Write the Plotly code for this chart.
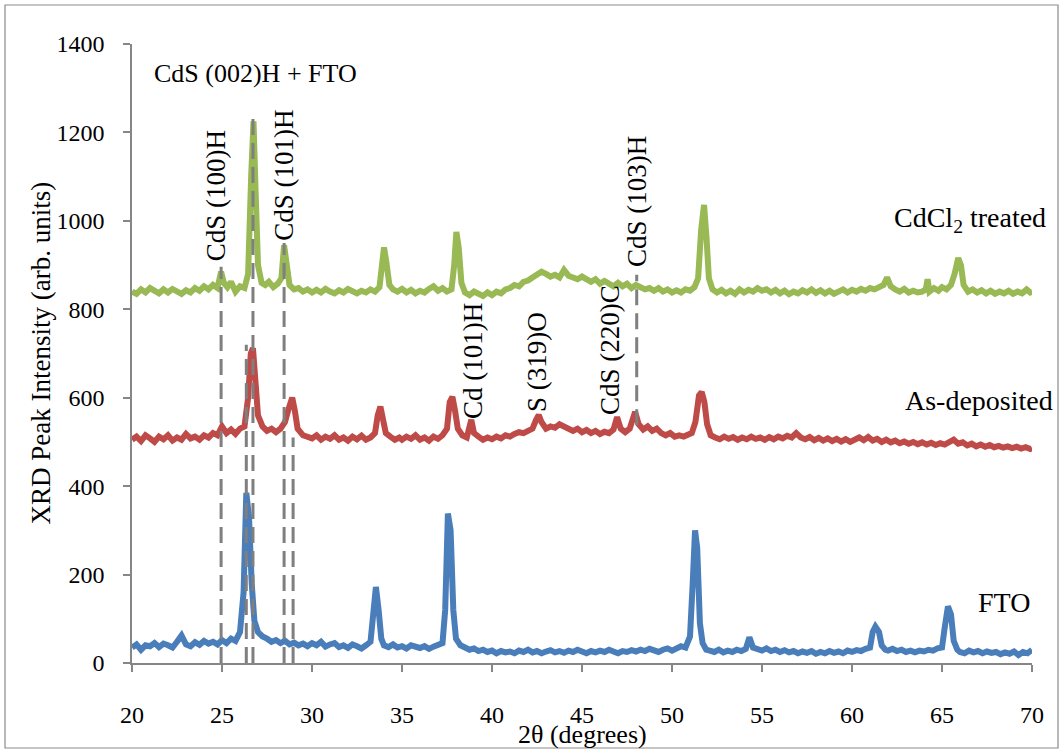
import plotly.graph_objects as go

# ---------------- data ----------------
fto_x = [20.0, 20.25, 20.5, 20.75, 21.0, 21.25, 21.5, 21.75, 22.0, 22.25, 22.5, 22.75, 23.0, 23.25, 23.5, 23.75,
         24.0, 24.25, 24.5, 24.75, 25.0, 25.25, 25.5, 25.75, 26.0, 26.2, 26.35, 26.5, 26.65, 26.8, 27.0, 27.25,
         27.5, 27.75, 28.0, 28.25, 28.5, 28.75, 29.0, 29.25, 29.5, 29.75, 30.0, 30.25, 30.5, 30.75, 31.0, 31.25,
         31.5, 31.75, 32.0, 32.25, 32.5, 32.75, 33.0, 33.25, 33.4, 33.55, 33.7, 33.85, 34.0, 34.25, 34.5, 34.75,
         35.0, 35.25, 35.5, 35.75, 36.0, 36.25, 36.5, 36.75, 37.0, 37.25, 37.4, 37.55, 37.7, 37.85, 38.0, 38.25,
         38.5, 38.75, 39.0, 39.25, 39.5, 39.75, 40.0, 40.25, 40.5, 40.75, 41.0, 41.25, 41.5, 41.75, 42.0, 42.25,
         42.5, 42.75, 43.0, 43.25, 43.5, 43.75, 44.0, 44.25, 44.5, 44.75, 45.0, 45.25, 45.5, 45.75, 46.0, 46.25,
         46.5, 46.75, 47.0, 47.25, 47.5, 47.75, 48.0, 48.25, 48.5, 48.75, 49.0, 49.25, 49.5, 49.75, 50.0, 50.25,
         50.5, 50.75, 51.0, 51.15, 51.28, 51.4, 51.55, 51.7, 51.9, 52.1, 52.35, 52.6, 52.85, 53.1, 53.35, 53.6,
         53.85, 54.1, 54.3, 54.5, 54.75, 55.0, 55.25, 55.5, 55.75, 56.0, 56.25, 56.5, 56.75, 57.0, 57.25, 57.5,
         57.75, 58.0, 58.25, 58.5, 58.75, 59.0, 59.25, 59.5, 59.75, 60.0, 60.25, 60.5, 60.75, 61.0, 61.15, 61.3,
         61.5, 61.65, 61.85, 62.0, 62.25, 62.5, 62.75, 63.0, 63.25, 63.5, 63.75, 64.0, 64.25, 64.5, 64.75, 65.0,
         65.15, 65.33, 65.5, 65.65, 65.85, 66.0, 66.25, 66.5, 66.75, 67.0, 67.25, 67.5, 67.75, 68.0, 68.25, 68.5,
         68.75, 69.0, 69.25, 69.5, 69.75, 70.0]
fto_y = [35, 42, 30, 40, 38, 45, 36, 44, 40, 35, 48, 62, 42, 38, 47, 41,
         50, 44, 48, 42, 52, 45, 55, 50, 70, 160, 385, 330, 180, 95, 70, 60,
         55, 48, 52, 45, 50, 42, 46, 40, 44, 38, 45, 40, 48, 37, 42, 45,
         36, 40, 34, 42, 38, 33, 40, 48, 110, 172, 120, 55, 40, 36, 42, 35,
         38, 33, 40, 36, 34, 38, 32, 37, 40, 45, 120, 338, 300, 120, 55, 40,
         35, 30, 33, 27, 30, 25, 28, 22, 27, 24, 26, 22, 28, 25, 30, 24,
         27, 22, 26, 29, 24, 27, 23, 28, 25, 30, 26, 22, 27, 24, 28, 25,
         30, 26, 22, 27, 25, 29, 26, 30, 27, 32, 28, 25, 30, 33, 28, 32,
         38, 35, 60, 180, 300, 260, 90, 45, 30, 28, 25, 30, 24, 28, 25, 30,
         27, 32, 58, 35, 30, 28, 33, 27, 30, 25, 29, 24, 27, 22, 26, 23,
         27, 21, 25, 22, 27, 23, 26, 22, 28, 25, 29, 27, 32, 35, 70, 82,
         70, 40, 30, 28, 32, 27, 30, 25, 28, 24, 28, 26, 30, 28, 33, 35,
         80, 128, 110, 50, 30, 25, 22, 28, 24, 27, 22, 26, 23, 25, 20, 24,
         21, 26, 18, 25, 22, 30]

asdep_x = [20.0, 20.25, 20.5, 20.75, 21.0, 21.25, 21.5, 21.75, 22.0, 22.25, 22.5, 22.75, 23.0, 23.25, 23.5, 23.75,
           24.0, 24.25, 24.5, 24.75, 25.0, 25.25, 25.5, 25.75, 26.0, 26.25, 26.45, 26.6, 26.72, 26.85, 27.0, 27.25,
           27.5, 27.75, 28.0, 28.25, 28.5, 28.7, 28.9, 29.05, 29.2, 29.5, 29.75, 30.0, 30.25, 30.5, 30.75, 31.0,
           31.25, 31.5, 31.75, 32.0, 32.25, 32.5, 32.75, 33.0, 33.25, 33.5, 33.65, 33.8, 33.95, 34.1, 34.35, 34.6,
           34.85, 35.0, 35.25, 35.5, 35.75, 36.0, 36.25, 36.5, 36.75, 37.0, 37.25, 37.5, 37.65, 37.8, 37.95, 38.1,
           38.35, 38.6, 38.85, 39.0, 39.25, 39.5, 39.75, 40.0, 40.25, 40.5, 40.75, 41.0, 41.25, 41.5, 41.75, 42.0,
           42.25, 42.45, 42.6, 42.75, 43.0, 43.25, 43.5, 43.75, 44.0, 44.25, 44.5, 44.75, 45.0, 45.25, 45.5, 45.75,
           46.0, 46.25, 46.5, 46.75, 46.95, 47.15, 47.4, 47.65, 47.95, 48.15, 48.4, 48.65, 48.9, 49.15, 49.4, 49.65,
           49.9, 50.15, 50.4, 50.65, 50.9, 51.1, 51.3, 51.5, 51.65, 51.8, 51.95, 52.15, 52.4, 52.65, 52.9, 53.15,
           53.4, 53.65, 53.9, 54.15, 54.4, 54.65, 54.9, 55.15, 55.4, 55.65, 55.9, 56.15, 56.4, 56.65, 56.9, 57.15,
           57.4, 57.65, 57.9, 58.15, 58.4, 58.65, 58.9, 59.15, 59.4, 59.65, 59.9, 60.15, 60.4, 60.65, 60.9, 61.15,
           61.4, 61.65, 61.9, 62.15, 62.4, 62.65, 62.9, 63.15, 63.4, 63.65, 63.9, 64.15, 64.4, 64.65, 64.9, 65.15,
           65.4, 65.65, 65.9, 66.15, 66.4, 66.65, 66.9, 67.15, 67.4, 67.65, 67.9, 68.15, 68.4, 68.65, 68.9, 69.15,
           69.4, 69.65, 69.9, 70.0]
asdep_y = [505, 512, 502, 515, 508, 500, 512, 506, 515, 503, 510, 505, 518, 508, 512, 505,
           515, 510, 520, 515, 535, 520, 528, 518, 530, 535, 600, 700, 712, 640, 560, 535,
           525, 530, 522, 530, 545, 575, 600, 570, 530, 515, 512, 508, 515, 505, 512, 507,
           515, 505, 510, 503, 512, 506, 514, 505, 510, 520, 560, 580, 550, 520, 512, 505,
           510, 505, 512, 507, 515, 505, 510, 503, 512, 507, 515, 530, 590, 602, 570, 530,
           515, 510, 550, 520, 512, 505, 510, 506, 512, 508, 515, 512, 518, 522, 520, 527,
           530, 550, 561, 545, 530, 535, 532, 540, 535, 530, 525, 530, 522, 527, 520, 525,
           518, 523, 520, 528, 556, 530, 522, 530, 568, 540, 528, 535, 525, 530, 520, 515,
           520, 512, 515, 512, 518, 520, 545, 605, 613, 590, 540, 515, 510, 506, 512, 507,
           511, 505, 510, 506, 512, 507, 510, 505, 511, 506, 512, 508, 514, 510, 520, 510,
           506, 511, 504, 509, 503, 508, 502, 507, 501, 506, 500, 505, 510, 504, 511, 503,
           507, 500, 505, 499, 503, 497, 501, 496, 500, 495, 499, 494, 498, 493, 497, 494,
           500, 505, 496, 499, 492, 496, 490, 494, 489, 493, 488, 491, 487, 490, 486, 489,
           485, 488, 484, 486]

cdcl_x = [20.0, 20.25, 20.5, 20.75, 21.0, 21.25, 21.5, 21.75, 22.0, 22.25, 22.5, 22.75, 23.0, 23.25, 23.5, 23.75,
          24.0, 24.25, 24.5, 24.75, 24.95, 25.1, 25.3, 25.5, 25.75, 26.0, 26.25, 26.45, 26.62, 26.75, 26.88, 27.0,
          27.2, 27.4, 27.6, 27.85, 28.1, 28.3, 28.45, 28.6, 28.75, 29.0, 29.25, 29.5, 29.75, 30.0, 30.25, 30.5,
          30.75, 31.0, 31.25, 31.5, 31.75, 32.0, 32.25, 32.5, 32.75, 33.0, 33.25, 33.5, 33.75, 33.88, 34.0, 34.12,
          34.3, 34.5, 34.75, 35.0, 35.25, 35.5, 35.75, 36.0, 36.25, 36.5, 36.75, 37.0, 37.25, 37.5, 37.75, 37.9,
          38.02, 38.15, 38.3, 38.5, 38.75, 39.0, 39.25, 39.5, 39.75, 40.0, 40.25, 40.5, 40.75, 41.0, 41.25, 41.5,
          41.75, 42.0, 42.25, 42.5, 42.75, 43.0, 43.25, 43.5, 43.75, 44.0, 44.25, 44.5, 44.75, 45.0, 45.25, 45.5,
          45.75, 46.0, 46.25, 46.5, 46.75, 47.0, 47.25, 47.5, 47.75, 48.0, 48.25, 48.5, 48.75, 49.0, 49.25, 49.5,
          49.75, 50.0, 50.25, 50.5, 50.75, 51.0, 51.25, 51.45, 51.62, 51.78, 51.92, 52.05, 52.25, 52.5, 52.75, 53.0,
          53.25, 53.5, 53.75, 54.0, 54.25, 54.5, 54.75, 55.0, 55.25, 55.5, 55.75, 56.0, 56.25, 56.5, 56.75, 57.0,
          57.25, 57.5, 57.75, 58.0, 58.25, 58.5, 58.75, 59.0, 59.25, 59.5, 59.75, 60.0, 60.25, 60.5, 60.75, 61.0,
          61.25, 61.5, 61.75, 61.95, 62.15, 62.4, 62.65, 62.9, 63.15, 63.4, 63.65, 63.9, 64.1, 64.2, 64.3, 64.55,
          64.8, 65.0, 65.25, 65.5, 65.7, 65.9, 66.05, 66.2, 66.45, 66.7, 66.95, 67.2, 67.45, 67.7, 67.95, 68.2,
          68.45, 68.7, 68.95, 69.2, 69.45, 69.7, 69.9, 70.0]
cdcl_y = [840, 835, 845, 838, 848, 840, 836, 845, 838, 846, 840, 835, 843, 838, 848, 842,
          852, 845, 855, 848, 885, 860, 850, 862, 840, 852, 848, 880, 1100, 1225, 1050, 900,
          860, 855, 862, 850, 858, 870, 945, 890, 855, 845, 848, 840, 845, 838, 844, 838,
          846, 840, 836, 843, 838, 846, 840, 836, 842, 838, 845, 840, 850, 905, 940, 910,
          855, 845, 840, 846, 838, 844, 836, 842, 838, 846, 852, 842, 848, 840, 845, 900,
          975, 940, 860, 838, 832, 840, 834, 830, 838, 832, 840, 836, 845, 848, 855, 852,
          862, 865, 872, 878, 885, 880, 874, 878, 872, 889, 876, 872, 868, 874, 866, 862,
          868, 858, 864, 858, 852, 860, 852, 858, 848, 855, 850, 845, 848, 842, 848, 840,
          845, 838, 843, 838, 845, 842, 850, 870, 980, 1036, 960, 870, 845, 838, 844, 836,
          842, 835, 845, 838, 844, 840, 848, 842, 845, 838, 844, 836, 842, 834, 840, 836,
          843, 838, 845, 837, 843, 836, 842, 835, 840, 845, 838, 844, 840, 846, 842, 848,
          845, 850, 855, 872, 852, 845, 840, 846, 838, 842, 838, 840, 845, 868, 840, 848,
          842, 850, 845, 855, 880, 916, 900, 855, 840, 845, 838, 843, 836, 842, 835, 840,
          836, 842, 835, 840, 836, 845, 838, 840]

series_names = ["FTO", "As-deposited", "CdCl2 treated"]
series_colors = ["#4A7EBB", "#BE4B48", "#98B954"]

x_ticks = [20, 25, 30, 35, 40, 45, 50, 55, 60, 65, 70]
y_ticks = [0, 200, 400, 600, 800, 1000, 1200, 1400]

# reference (dashed) lines: x position, bottom, top
ref_x = [24.95, 26.35, 26.72, 28.45, 28.95, 48.04]
ref_y0 = [0, 0, 0, 0, 0, 538]
ref_y1 = [896, 720, 1240, 950, 510, 878]

# rotated peak labels
peak_labels = ["CdS (100)H", "CdS (101)H", "Cd (101)H", "S (319)O", "CdS (220)C", "CdS (103)H"]
peak_label_x = [24.67, 28.44, 38.94, 42.5, 46.56, 48.06]
peak_label_y = [1056, 1104, 683, 681, 708, 1043]

FONT = "Liberation Serif"

fig = go.Figure()
for xs, ys, name, col in [(fto_x, fto_y, series_names[0], series_colors[0]),
                          (asdep_x, asdep_y, series_names[1], series_colors[1]),
                          (cdcl_x, cdcl_y, series_names[2], series_colors[2])]:
    fig.add_trace(go.Scatter(x=xs, y=ys, mode="lines", name=name,
                             line=dict(color=col, width=6),
                             showlegend=False, cliponaxis=False))

for xv, y0, y1 in zip(ref_x, ref_y0, ref_y1):
    fig.add_shape(type="line", xref="x", yref="y", x0=xv, x1=xv, y0=y0, y1=y1,
                  line=dict(color="#7F7F7F", width=3, dash="16px,8px"), layer="above")

ann = []
for t, xv, yv in zip(peak_labels, peak_label_x, peak_label_y):
    ann.append(dict(text=t, x=xv, y=yv, xref="x", yref="y", textangle=-90, showarrow=False,
                    xanchor="center", yanchor="middle", font=dict(family=FONT, size=27, color="black")))
ann.append(dict(text="CdS (002)H + FTO", x=21.1, y=1334, xref="x", yref="y", showarrow=False,
                xanchor="left", yanchor="middle", font=dict(family=FONT, size=26, color="black")))
ann.append(dict(text="CdCl<sub>2</sub> treated", x=1.0178, y=0.7157, xref="paper", yref="paper",
                showarrow=False, xanchor="right", yanchor="middle", font=dict(family=FONT, size=28, color="black")))
ann.append(dict(text="As-deposited", x=1.0256, y=0.4233, xref="paper", yref="paper",
                showarrow=False, xanchor="right", yanchor="middle", font=dict(family=FONT, size=28, color="black")))
ann.append(dict(text="FTO", x=1.0, y=0.0985, xref="paper", yref="paper",
                showarrow=False, xanchor="right", yanchor="middle", font=dict(family=FONT, size=28, color="black")))
ann.append(dict(text="XRD Peak Intensity (arb. units)", x=-0.1022, y=0.5, xref="paper", yref="paper",
                textangle=-90, showarrow=False, xanchor="center", yanchor="middle",
                font=dict(family=FONT, size=27, color="black")))
ann.append(dict(text="2θ (degrees)", x=0.5, y=-0.116, xref="paper", yref="paper",
                showarrow=False, xanchor="center", yanchor="middle",
                font=dict(family=FONT, size=26, color="black")))

# outer chart border
fig.add_shape(type="rect", xref="paper", yref="paper", x0=-0.1411, x1=1.0289, y0=-0.1373, y1=1.063,
              line=dict(color="#8C8C8C", width=1.2), fillcolor="rgba(0,0,0,0)", layer="below")

axis_common = dict(showgrid=False, zeroline=False, showline=True, linecolor="#868686", linewidth=1.5,
                   ticks="outside", ticklen=7, tickwidth=1.5, tickcolor="#868686",
                   tickfont=dict(family=FONT, size=24, color="black"))

fig.update_layout(
    width=1063, height=751,
    margin=dict(l=132, r=31, t=44, b=88),
    paper_bgcolor="white", plot_bgcolor="white",
    annotations=ann,
    xaxis=dict(range=[20, 70], tickvals=x_ticks, ticklabelstandoff=22, **axis_common),
    yaxis=dict(range=[0, 1400], tickvals=y_ticks, ticklabelstandoff=14, **axis_common),
)

fig.write_html("out.html")
